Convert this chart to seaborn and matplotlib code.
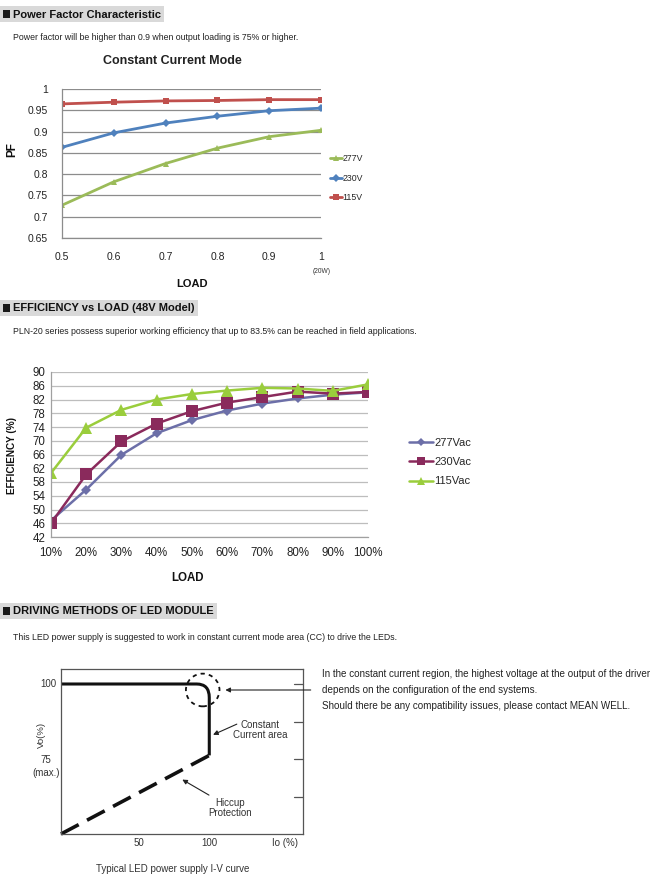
import matplotlib
matplotlib.use("Agg")
import matplotlib.pyplot as plt
from matplotlib.patches import Rectangle, Ellipse, PathPatch
from matplotlib.path import Path
import numpy as np
import pandas as pd
import seaborn as sns

# ---------------- data ----------------
pf_load = [0.5, 0.6, 0.7, 0.8, 0.9, 1.0]
pf_277 = [0.727, 0.782, 0.825, 0.861, 0.888, 0.903]
pf_230 = [0.863, 0.897, 0.920, 0.936, 0.949, 0.955]
pf_115 = [0.965, 0.969, 0.972, 0.973, 0.975, 0.975]
pf_series = ["277V", "230V", "115V"]

eff_load = [10, 20, 30, 40, 50, 60, 70, 80, 90, 100]
eff_load_labels = ["10%", "20%", "30%", "40%", "50%", "60%", "70%", "80%", "90%", "100%"]
eff_277 = [46.8, 55.8, 65.9, 72.2, 76.0, 78.8, 80.8, 82.3, 83.4, 84.1]
eff_230 = [46.0, 60.2, 69.8, 75.0, 78.6, 81.1, 82.7, 84.3, 83.7, 84.2]
eff_115 = [60.6, 73.8, 79.0, 82.0, 83.6, 84.6, 85.4, 85.2, 84.5, 86.4]
eff_series = ["277Vac", "230Vac", "115Vac"]

iv_cc_x = [-6, 91, 100, 100, 100]      # constant-voltage / constant-current curve
iv_cc_y = [100, 100, 100, 95.5, 76.2]
iv_hiccup_x = [-6, 100]
iv_hiccup_y = [50, 76.2]

# ---------------- style ----------------
sns.set_theme(style="white")
plt.rcParams["font.family"] = ["Liberation Sans", "DejaVu Sans"]
plt.rcParams["lines.scale_dashes"] = False

W, H = 670, 889
fig = plt.figure(figsize=(W / 100, H / 100), dpi=100)
renderer = fig.canvas.get_renderer()


def fx(x):
    return x / W


def fy(y):
    return 1 - y / H


def add_ax(l, t, r, b):
    return fig.add_axes([fx(l), fy(b), (r - l) / W, (b - t) / H])


def ftext(x, y, s, **kw):
    kw.setdefault("va", "center")
    kw.setdefault("ha", "left")
    return fig.text(fx(x), fy(y), s, **kw)


def header(y0, y1, s):
    t = ftext(13, (y0 + y1) / 2 + 0.5, s, weight="bold", fontsize=8.0, color="#111111", zorder=3)
    x1 = t.get_window_extent(renderer).x1 + 3
    fig.patches.append(Rectangle((0, fy(y1)), fx(x1), (y1 - y0) / H, transform=fig.transFigure,
                                 facecolor="#d9d9d9", edgecolor="none", zorder=1))
    fig.patches.append(Rectangle((fx(2.5), fy(y1 - 4)), fx(7), 8 / H, transform=fig.transFigure,
                                 facecolor="#1a1a1a", edgecolor="none", zorder=2))


# ---------------- headers & notes ----------------
header(6, 22, "Power Factor Characteristic")
ftext(13, 38, "Power factor will be higher than 0.9 when output loading is 75% or higher.",
      fontsize=6.3, color="#222222")
header(300, 316, "EFFICIENCY vs LOAD (48V Model)")
ftext(13, 331, "PLN-20 series possess superior working efficiency that up to 83.5% can be reached in field applications.",
      fontsize=6.3, color="#222222")
header(603, 619, "DRIVING METHODS OF LED MODULE")
ftext(13, 637, "This LED power supply is suggested to work in constant current mode area (CC) to drive the LEDs.",
      fontsize=6.3, color="#222222")

# ---------------- chart 1 : power factor ----------------
ax1 = add_ax(62, 89, 321, 238)
pf_df = pd.DataFrame({
    "LOAD": pf_load * 3,
    "PF": pf_277 + pf_230 + pf_115,
    "series": [s for s in pf_series for _ in pf_load],
})
pf_colors = {"277V": "#9BBB59", "230V": "#4F81BD", "115V": "#C0504D"}
pf_markers = {"277V": "^", "230V": "D", "115V": "s"}
sns.lineplot(data=pf_df, x="LOAD", y="PF", hue="series", style="series", hue_order=pf_series,
             style_order=pf_series, palette=pf_colors, markers=pf_markers, dashes=False,
             linewidth=2.0, markersize=4.5, markeredgewidth=0, ax=ax1)
ax1.set_xlim(0.5, 1.0)
ax1.set_ylim(0.65, 1.0)
ax1.set_yticks(np.arange(0.65, 1.001, 0.05))
ax1.set_yticklabels(["0.65", "0.7", "0.75", "0.8", "0.85", "0.9", "0.95", "1"])
ax1.set_xticks(pf_load)
ax1.set_xticklabels(["0.5", "0.6", "0.7", "0.8", "0.9", "1"])
ax1.yaxis.grid(True, color="#8c8c8c", linewidth=0.9)
ax1.xaxis.grid(False)
for sp in ["top", "right"]:
    ax1.spines[sp].set_visible(False)
for sp in ["left", "bottom"]:
    ax1.spines[sp].set_color("#8c8c8c")
    ax1.spines[sp].set_linewidth(0.9)
ax1.tick_params(axis="both", direction="out", length=4, width=0.9, color="#8c8c8c",
                labelsize=7.5, labelcolor="#222222", pad=6)
ax1.set_xlabel("")
ax1.set_ylabel("")
ax1.set_axisbelow(True)
ftext(172, 61, "Constant Current Mode", ha="center", weight="bold", fontsize=9, color="#222222")
ftext(12, 150, "PF", ha="center", weight="bold", fontsize=8.5, rotation=90, color="#111111")
ftext(192, 284, "LOAD", ha="center", weight="bold", fontsize=8, color="#111111")
ftext(322, 272, "(20W)", ha="center", fontsize=4.8, color="#333333")
h1, l1 = ax1.get_legend_handles_labels()
ax1.legend(h1, l1, loc="upper left", bbox_to_anchor=(fx(326), fy(150)), bbox_transform=fig.transFigure,
           frameon=False, fontsize=6.3, handlelength=1.3, handletextpad=0.1, labelspacing=1.2,
           borderpad=0, markerscale=0.9)

# ---------------- chart 2 : efficiency ----------------
ax2 = add_ax(51, 372, 368, 537)
eff_df = pd.DataFrame({
    "LOAD": eff_load * 3,
    "EFF": eff_277 + eff_230 + eff_115,
    "series": [s for s in eff_series for _ in eff_load],
})
eff_colors = {"277Vac": "#6C6FA8", "230Vac": "#8A2A5C", "115Vac": "#9ACD3C"}
eff_markers = {"277Vac": "D", "230Vac": "s", "115Vac": "^"}
for s, ms in zip(eff_series, [5.2, 8.0, 8.0]):
    sub = eff_df[eff_df["series"] == s]
    sns.lineplot(data=sub, x="LOAD", y="EFF", color=eff_colors[s], marker=eff_markers[s],
                 markersize=ms, markeredgewidth=0, linewidth=1.8, label=s, ax=ax2)
ax2.set_xlim(10, 100)
ax2.set_ylim(42, 90)
ax2.set_yticks(np.arange(42, 91, 4))
ax2.set_xticks(eff_load)
ax2.set_xticklabels(eff_load_labels)
ax2.yaxis.grid(True, color="#bdbdbd", linewidth=0.9)
ax2.xaxis.grid(False)
for sp in ["top", "right"]:
    ax2.spines[sp].set_visible(False)
for sp in ["left", "bottom"]:
    ax2.spines[sp].set_color("#a0a0a0")
    ax2.spines[sp].set_linewidth(0.9)
ax2.tick_params(axis="both", length=0, labelsize=8.3, labelcolor="#222222", pad=4)
ax2.tick_params(axis="x", pad=7)
ax2.set_xlabel("")
ax2.set_ylabel("")
ax2.set_axisbelow(True)
ftext(12, 455, "EFFICIENCY (%)", ha="center", weight="bold", fontsize=7.2, rotation=90, color="#111111")
ftext(187, 578, "LOAD", ha="center", weight="bold", fontsize=8.3, color="#111111")
h2, l2 = ax2.get_legend_handles_labels()
ax2.legend(h2, l2, loc="upper left", bbox_to_anchor=(fx(403), fy(432)), bbox_transform=fig.transFigure,
           frameon=False, fontsize=8, handlelength=2.2, handletextpad=0.1, labelspacing=0.85,
           borderpad=0, markerscale=0.7)

# ---------------- chart 3 : I-V curve ----------------
ax3 = add_ax(61, 669, 303, 834)
ax3.set_xlim(-6, 167)
ax3.set_ylim(50, 105)
verts = list(zip(iv_cc_x, iv_cc_y))
codes = [Path.MOVETO, Path.LINETO, Path.CURVE3, Path.CURVE3, Path.LINETO]
ax3.add_patch(PathPatch(Path(verts, codes), fill=False, edgecolor="#111111", linewidth=2.2,
                        capstyle="butt", joinstyle="miter"))
sns.lineplot(x=iv_hiccup_x, y=iv_hiccup_y, color="#111111", linewidth=2.6, ax=ax3)
hl = ax3.lines[-1]
hl.set_dashes([14.4, 6.8])
hl.set_dash_capstyle("butt")
hl.set_clip_on(False)
ax3.add_patch(Ellipse((95.3, 98), 24, 10.9, fill=False, edgecolor="#111111", linewidth=1.3,
                      linestyle=(0, (3, 3))))
for sp in ax3.spines.values():
    sp.set_color("#555555")
    sp.set_linewidth(0.9)
ax3.set_xticks([50, 100, 154])
ax3.set_xticklabels(["50", "100", "Io (%)"])
ax3.set_yticks([75, 100])
ax3.set_yticklabels(["", ""])
ax3.tick_params(axis="x", direction="in", length=6, width=0.9, color="#555555", labelsize=7,
                labelcolor="#333333", pad=3)
ax3.tick_params(axis="y", direction="in", length=6, width=0.9, color="#555555")
ax3.set_xlabel("")
ax3.set_ylabel("")
for yv in [100, 87.5, 75, 62.5]:
    ax3.plot([160.5, 167], [yv, yv], color="#555555", linewidth=0.9, clip_on=False)
ftext(48, 684, "100", ha="center", fontsize=7, color="#333333")
ftext(45.5, 760, "75", ha="center", fontsize=7, color="#333333")
ftext(46, 773, "(max.)", ha="center", fontsize=7, color="#333333")
ftext(173, 869, "Typical LED power supply I-V curve", ha="center", fontsize=7, color="#333333")
ftext(41, 735, "Vo(%)", ha="center", fontsize=6.8, rotation=90, color="#333333")
ax3.text(136.5, 84.7, "Constant\nCurrent area", ha="center", va="center", fontsize=7,
         color="#333333", linespacing=1.05)
ax3.text(115, 58.7, "Hiccup\nProtection", ha="center", va="center", fontsize=7,
         color="#333333", linespacing=1.05)
ax3.annotate("", xy=(100.9, 82.7), xytext=(121.5, 87.0),
             arrowprops=dict(arrowstyle="-|>", color="#222222", lw=0.8, mutation_scale=7))
ax3.annotate("", xy=(79, 68.6), xytext=(101.5, 62.5),
             arrowprops=dict(arrowstyle="-|>", color="#222222", lw=0.8, mutation_scale=7))
ax3.annotate("", xy=(109.5, 98), xytext=(174.5, 98), annotation_clip=False,
             arrowprops=dict(arrowstyle="-|>", color="#222222", lw=0.8, mutation_scale=7))

for i, s in enumerate(["In the constant current region, the highest voltage at the output of the driver",
                       "depends on the configuration of the end systems.",
                       "Should there be any compatibility issues, please contact MEAN WELL."]):
    ftext(322, 674 + 16 * i, s, fontsize=7.1, color="#222222")

fig.savefig("out.png", dpi=100)
